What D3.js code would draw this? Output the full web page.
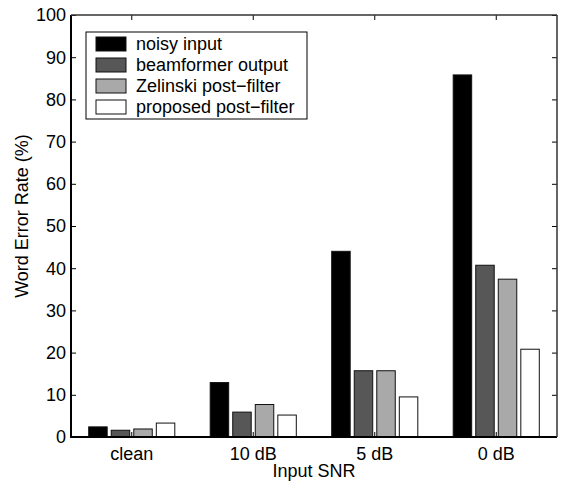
<!DOCTYPE html>
<html lang="en">
<head>
<meta charset="UTF-8">
<title>Word Error Rate</title>
<script src="https://d3js.org/d3.v7.min.js"></script>
<style>
  body { margin: 0; background: #fff; }
  text { font-family: "Liberation Sans", Arial, sans-serif; fill: #000; }
</style>
</head>
<body>
<script>
var categories = ["clean", "10 dB", "5 dB", "0 dB"];
var seriesNames = ["noisy input", "beamformer output", "Zelinski post\u2212filter", "proposed post\u2212filter"];
var noisyInput = [2.4, 12.9, 44.0, 85.8];
var beamformerOutput = [1.6, 5.9, 15.7, 40.7];
var zelinski = [1.9, 7.7, 15.7, 37.4];
var proposed = [3.3, 5.2, 9.5, 20.8];
var yTicks = [0, 10, 20, 30, 40, 50, 60, 70, 80, 90, 100];
var fills = ["#000000", "#575757", "#a9a9a9", "#ffffff"];

var W = 562, H = 483;
var mLeft = 71, mRight = 557, mTop = 15, mBottom = 437;
var fs = "18px";

var svg = d3.select("body").append("svg").attr("width", W).attr("height", H);

var x = d3.scaleBand().domain(categories).range([mLeft, mRight]).padding(0);
var y = d3.scaleLinear().domain([0, 100]).range([mBottom, mTop]);
var inner = d3.scaleBand().domain(d3.range(4))
  .range([-x.bandwidth() * 0.371, x.bandwidth() * 0.371]).padding(0);
var barW = inner.bandwidth() * 0.82;

var series = [noisyInput, beamformerOutput, zelinski, proposed];
var rows = [];
series.forEach(function(vals, s) {
  vals.forEach(function(v, i) { rows.push({ s: s, cat: categories[i], v: v }); });
});

svg.selectAll("rect.bar").data(rows).enter().append("rect")
  .attr("class", "bar")
  .attr("x", function(d) { return x(d.cat) + x.bandwidth() / 2 + inner(d.s) + (inner.bandwidth() - barW) / 2; })
  .attr("width", barW)
  .attr("y", function(d) { return y(d.v); })
  .attr("height", function(d) { return y(0) - y(d.v); })
  .attr("fill", function(d) { return fills[d.s]; })
  .attr("stroke", "#111")
  .attr("stroke-width", 1);

// axes (MATLAB style, inward ticks)
var yl = svg.append("g").attr("transform", "translate(" + mLeft + ",0)")
  .call(d3.axisRight(y).tickValues(yTicks).tickSize(5).tickFormat(""));
var yr = svg.append("g").attr("transform", "translate(" + mRight + ",0)")
  .call(d3.axisLeft(y).tickValues(yTicks).tickSize(5).tickFormat(""));
var xb = svg.append("g").attr("transform", "translate(0," + mBottom + ")")
  .call(d3.axisTop(x).tickSize(5).tickFormat(""));
var xt = svg.append("g").attr("transform", "translate(0," + mTop + ")")
  .call(d3.axisBottom(x).tickSize(5).tickFormat(""));
[yl, yr, xb, xt].forEach(function(g) {
  g.select(".domain").remove();
  g.selectAll(".tick line").attr("stroke", "#000").attr("stroke-width", 1);
});

svg.append("line").attr("x1", mLeft).attr("x2", mLeft).attr("y1", mTop).attr("y2", mBottom + 1)
  .attr("stroke", "#000").attr("stroke-width", 2);
svg.append("line").attr("x1", mLeft).attr("x2", mRight).attr("y1", mBottom).attr("y2", mBottom)
  .attr("stroke", "#000").attr("stroke-width", 2);
svg.append("line").attr("x1", mLeft).attr("x2", mRight).attr("y1", mTop).attr("y2", mTop)
  .attr("stroke", "#333").attr("stroke-width", 1.5);
svg.append("line").attr("x1", mRight).attr("x2", mRight).attr("y1", mTop).attr("y2", mBottom)
  .attr("stroke", "#333").attr("stroke-width", 1.5);

// tick labels
svg.selectAll("text.ytl").data(yTicks).enter().append("text")
  .attr("class", "ytl")
  .attr("x", mLeft - 5).attr("y", function(d) { return y(d); })
  .attr("dy", "0.35em").attr("text-anchor", "end")
  .style("font-size", fs).text(function(d) { return d; });
svg.selectAll("text.xtl").data(categories).enter().append("text")
  .attr("class", "xtl")
  .attr("x", function(d) { return x(d) + x.bandwidth() / 2; }).attr("y", 460)
  .attr("text-anchor", "middle")
  .style("font-size", fs).text(function(d) { return d; });

svg.append("text").attr("x", (mLeft + mRight) / 2).attr("y", 477)
  .attr("text-anchor", "middle").style("font-size", fs).text("Input SNR");
svg.append("text").attr("transform", "translate(28,216) rotate(-90)")
  .attr("text-anchor", "middle").style("font-size", fs).text("Word Error Rate (%)");

// legend
var lg = svg.append("g");
lg.append("rect").attr("x", 86).attr("y", 32).attr("width", 221).attr("height", 87)
  .attr("fill", "#fff").attr("stroke", "#000").attr("stroke-width", 1);
seriesNames.forEach(function(name, i) {
  var cy = 44 + i * 21;
  lg.append("rect").attr("x", 96).attr("y", cy - 7).attr("width", 30).attr("height", 14)
    .attr("fill", fills[i]).attr("stroke", "#111").attr("stroke-width", 1);
  lg.append("text").attr("x", 136).attr("y", cy).attr("dy", "0.35em")
    .style("font-size", fs).text(name);
});
</script>
</body>
</html>
